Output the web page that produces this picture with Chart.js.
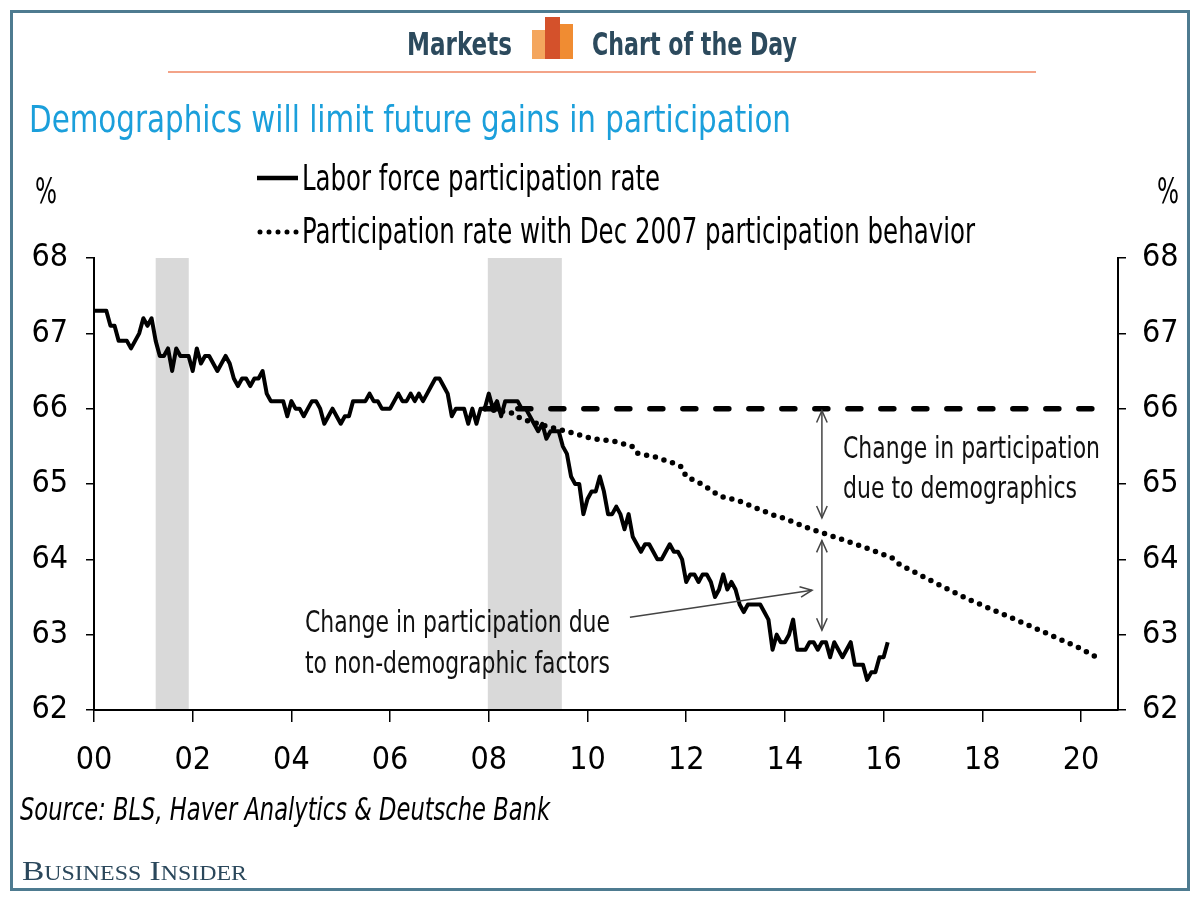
<!DOCTYPE html>
<html>
<head>
<meta charset="utf-8">
<title>Demographics will limit future gains in participation</title>
<script src="https://cdn.jsdelivr.net/npm/chart.js@4.4.1/dist/chart.umd.min.js"></script>
<style>
  html, body { margin: 0; padding: 0; background: #fff; }
  #wrap { width: 1200px; height: 900px; }
</style>
</head>
<body>
<div id="wrap"><canvas id="lfpr" width="1200" height="900"></canvas></div>
<script>
// Labor force participation rate, monthly, Jan 2000 - Feb 2016
const startYear = 2000;
const lfprRate = [
  67.3, 67.3, 67.3, 67.3, 67.1, 67.1, 66.9, 66.9, 66.9, 66.8, 66.9, 67.0,
  67.2, 67.1, 67.2, 66.9, 66.7, 66.7, 66.8, 66.5, 66.8, 66.7, 66.7, 66.7,
  66.5, 66.8, 66.6, 66.7, 66.7, 66.6, 66.5, 66.6, 66.7, 66.6, 66.4, 66.3,
  66.4, 66.4, 66.3, 66.4, 66.4, 66.5, 66.2, 66.1, 66.1, 66.1, 66.1, 65.9,
  66.1, 66.0, 66.0, 65.9, 66.0, 66.1, 66.1, 66.0, 65.8, 65.9, 66.0, 65.9,
  65.8, 65.9, 65.9, 66.1, 66.1, 66.1, 66.1, 66.2, 66.1, 66.1, 66.0, 66.0,
  66.0, 66.1, 66.2, 66.1, 66.1, 66.2, 66.1, 66.2, 66.1, 66.2, 66.3, 66.4,
  66.4, 66.3, 66.2, 65.9, 66.0, 66.0, 66.0, 65.8, 66.0, 65.8, 66.0, 66.0,
  66.2, 66.0, 66.1, 65.9, 66.1, 66.1, 66.1, 66.1, 66.0, 66.0, 65.9, 65.8,
  65.7, 65.8, 65.6, 65.7, 65.7, 65.7, 65.5, 65.4, 65.1, 65.0, 65.0, 64.6,
  64.8, 64.9, 64.9, 65.1, 64.9, 64.6, 64.6, 64.7, 64.6, 64.4, 64.6, 64.3,
  64.2, 64.1, 64.2, 64.2, 64.1, 64.0, 64.0, 64.1, 64.2, 64.1, 64.1, 64.0,
  63.7, 63.8, 63.8, 63.7, 63.8, 63.8, 63.7, 63.5, 63.6, 63.8, 63.6, 63.7,
  63.6, 63.4, 63.3, 63.4, 63.4, 63.4, 63.4, 63.3, 63.2, 62.8, 63.0, 62.9,
  62.9, 63.0, 63.2, 62.8, 62.8, 62.8, 62.9, 62.9, 62.8, 62.9, 62.9, 62.7,
  62.9, 62.8, 62.7, 62.8, 62.9, 62.6, 62.6, 62.6, 62.4, 62.5, 62.5, 62.7,
  62.7, 62.9
];

// participation rate with Dec 2007 participation behavior
const behaviorYears = [
  2007.92, 2008.47, 2008.67, 2009.2, 2009.58, 2010.11, 2010.52, 2010.9,
  2011.0, 2011.37, 2011.73, 2011.9, 2012.0, 2012.34, 2012.68, 2013.05,
  2013.76, 2014.0, 2014.45, 2014.77, 2015.62, 2016.17, 2016.33, 2017.04,
  2017.75, 2018.5, 2019.23, 2019.98, 2020.32
];
const behaviorRate = [
  66.0, 65.94, 65.86, 65.76, 65.70, 65.60, 65.57, 65.50,
  65.41, 65.36, 65.28, 65.23, 65.10, 64.99, 64.84, 64.78,
  64.59, 64.54, 64.42, 64.35, 64.16, 64.02, 63.93, 63.69,
  63.46, 63.25, 63.04, 62.82, 62.70
];

// Dec 2007 level held flat
const flatYears = [2007.92, 2020.38];
const flatRate = [66.0, 66.0];

// recessions
const recessionStart = [2001.25, 2007.98];
const recessionEnd = [2001.92, 2009.48];

const yMin = 62, yMax = 68;
const xMin = 2000, xMax = 2020.75;

const NARROW = '"Liberation Sans Narrow", "Arial Narrow", "DejaVu Sans Condensed", sans-serif';

function fitText(ctx, str, x, y, w, font, color) {
  ctx.save();
  ctx.font = font;
  ctx.fillStyle = color;
  ctx.textAlign = 'left';
  ctx.textBaseline = 'alphabetic';
  const m = ctx.measureText(str).width;
  ctx.translate(x, y);
  ctx.scale(w / m, 1);
  ctx.fillText(str, 0, 0);
  ctx.restore();
}

function arrowHead(ctx, x, y, ang) {
  const L = 13, a = 0.42;
  ctx.beginPath();
  ctx.moveTo(x - L * Math.cos(ang - a), y - L * Math.sin(ang - a));
  ctx.lineTo(x, y);
  ctx.lineTo(x - L * Math.cos(ang + a), y - L * Math.sin(ang + a));
  ctx.stroke();
}

function arrow(ctx, x1, y1, x2, y2, both) {
  ctx.beginPath();
  ctx.moveTo(x1, y1);
  ctx.lineTo(x2, y2);
  ctx.stroke();
  const ang = Math.atan2(y2 - y1, x2 - x1);
  arrowHead(ctx, x2, y2, ang);
  if (both) arrowHead(ctx, x1, y1, ang + Math.PI);
}

// grey recession bands
const recessionBands = {
  id: 'recessionBands',
  beforeDatasetsDraw(chart) {
    const { ctx, scales: { x, y } } = chart;
    ctx.save();
    ctx.fillStyle = '#d9d9d9';
    recessionStart.forEach((s, i) => {
      const x1 = x.getPixelForValue(s);
      const x2 = x.getPixelForValue(recessionEnd[i]);
      const top = y.getPixelForValue(yMax);
      const bottom = y.getPixelForValue(yMin) - 1;
      ctx.fillRect(x1, top, x2 - x1, bottom - top);
    });
    ctx.restore();
  }
};

// header, title, legend, notes, source
const decor = {
  id: 'decor',
  afterDraw(chart) {
    const { ctx, scales: { x, y } } = chart;
    ctx.save();

    // frame
    ctx.strokeStyle = '#4e7b90';
    ctx.lineWidth = 3;
    ctx.strokeRect(11.5, 11.5, 1177, 878);

    // header
    fitText(ctx, 'Markets', 407, 55, 105, 'bold 32px ' + NARROW, '#2c4a5d');
    fitText(ctx, 'Chart of the Day', 592, 55, 205, 'bold 32px ' + NARROW, '#2c4a5d');
    ctx.fillStyle = '#f4a65e';
    ctx.fillRect(532, 30, 15, 29);
    ctx.fillStyle = '#f08c32';
    ctx.fillRect(560, 24, 13, 35);
    ctx.fillStyle = '#d4512b';
    ctx.fillRect(545, 17, 15, 42);
    ctx.strokeStyle = '#f3a388';
    ctx.lineWidth = 2;
    ctx.beginPath();
    ctx.moveTo(168, 72);
    ctx.lineTo(1036, 72);
    ctx.stroke();

    // title
    fitText(ctx, 'Demographics will limit future gains in participation', 29, 132, 762, '38px ' + NARROW, '#1b9fdb');

    // legend
    ctx.strokeStyle = '#000';
    ctx.lineWidth = 4.5;
    ctx.beginPath();
    ctx.moveTo(257, 178);
    ctx.lineTo(298, 178);
    ctx.stroke();
    ctx.lineWidth = 5;
    ctx.setLineDash([0, 9]);
    ctx.lineCap = 'round';
    ctx.beginPath();
    ctx.moveTo(260, 232);
    ctx.lineTo(298, 232);
    ctx.stroke();
    ctx.setLineDash([]);
    ctx.lineCap = 'butt';
    fitText(ctx, 'Labor force participation rate', 302, 190, 358, '35px ' + NARROW, '#000');
    fitText(ctx, 'Participation rate with Dec 2007 participation behavior', 302, 243, 673, '35px ' + NARROW, '#000');

    // axis units
    fitText(ctx, '%', 35, 203, 22, '36px ' + NARROW, '#000');
    fitText(ctx, '%', 1157, 203, 22, '36px ' + NARROW, '#000');

    // gap arrows
    const ax = x.getPixelForValue(2014.75);
    ctx.strokeStyle = '#444';
    ctx.lineWidth = 1.5;
    arrow(ctx, ax, y.getPixelForValue(66.0) + 2, ax, y.getPixelForValue(64.55), true);
    arrow(ctx, ax, y.getPixelForValue(64.25), ax, y.getPixelForValue(63.06), true);
    arrow(ctx, x.getPixelForValue(2010.86), y.getPixelForValue(63.23),
          x.getPixelForValue(2014.55), y.getPixelForValue(63.59), false);

    fitText(ctx, 'Change in participation', 843, 458, 257, '31px ' + NARROW, '#111');
    fitText(ctx, 'due to demographics', 843, 498, 234, '31px ' + NARROW, '#111');
    fitText(ctx, 'Change in participation due', 305, 632, 305, '31px ' + NARROW, '#111');
    fitText(ctx, 'to non-demographic factors', 305, 673, 305, '31px ' + NARROW, '#111');

    // source and brand
    fitText(ctx, 'Source: BLS, Haver Analytics & Deutsche Bank', 20, 820, 530, 'italic 32px ' + NARROW, '#000');
    fitText(ctx, 'Business Insider', 22, 880, 225, 'small-caps 28px "Liberation Serif", "DejaVu Serif", serif', '#2a475b');

    ctx.restore();
  }
};

const tickFont = { family: NARROW, size: 32 };
const axisGrid = { drawOnChartArea: false, tickLength: 8, color: '#000', lineWidth: 1.5 };
const axisBorder = { color: '#000', width: 2 };

const ctx = document.getElementById('lfpr').getContext('2d');
const chart = new Chart(ctx, {
  type: 'line',
  data: {
    datasets: [
      {
        label: 'Labor force participation rate',
        data: lfprRate.map((v, i) => ({ x: startYear + i / 12, y: v })),
        borderColor: '#000',
        borderWidth: 4,
        borderJoinStyle: 'round',
        pointRadius: 0,
        order: 0
      },
      {
        label: 'Participation rate with Dec 2007 participation behavior',
        data: behaviorYears.map((yr, i) => ({ x: yr, y: behaviorRate[i] })),
        borderColor: '#000',
        borderWidth: 5.5,
        borderDash: [0, 9],
        borderCapStyle: 'round',
        pointRadius: 0,
        order: 1
      },
      {
        label: 'Dec 2007 level',
        data: flatYears.map((yr, i) => ({ x: yr, y: flatRate[i] })),
        borderColor: '#000',
        borderWidth: 5.5,
        borderDash: [13, 20],
        borderCapStyle: 'round',
        pointRadius: 0,
        order: 2
      }
    ]
  },
  options: {
    responsive: false,
    animation: false,
    layout: { padding: { top: 258, left: 0, right: 0, bottom: 0 } },
    elements: { line: { tension: 0 } },
    plugins: {
      legend: { display: false },
      tooltip: { enabled: false }
    },
    scales: {
      x: {
        type: 'linear',
        min: xMin,
        max: xMax,
        afterFit: s => { s.height = 190; },
        ticks: {
          stepSize: 2,
          includeBounds: false,
          autoSkip: false,
          maxRotation: 0,
          padding: 19,
          color: '#000',
          font: tickFont,
          callback: v => String(Math.round(v) % 100).padStart(2, '0')
        },
        grid: Object.assign({}, axisGrid, { tickLength: 12 }),
        border: axisBorder
      },
      y: {
        position: 'left',
        min: yMin,
        max: yMax,
        afterFit: s => { s.width = 94; },
        ticks: { stepSize: 1, padding: 18, color: '#000', font: tickFont },
        grid: axisGrid,
        border: axisBorder
      },
      y2: {
        position: 'right',
        min: yMin,
        max: yMax,
        afterFit: s => { s.width = 82; },
        ticks: { stepSize: 1, padding: 16, color: '#000', font: tickFont },
        grid: axisGrid,
        border: axisBorder
      }
    }
  },
  plugins: [recessionBands, decor]
});
</script>
</body>
</html>
